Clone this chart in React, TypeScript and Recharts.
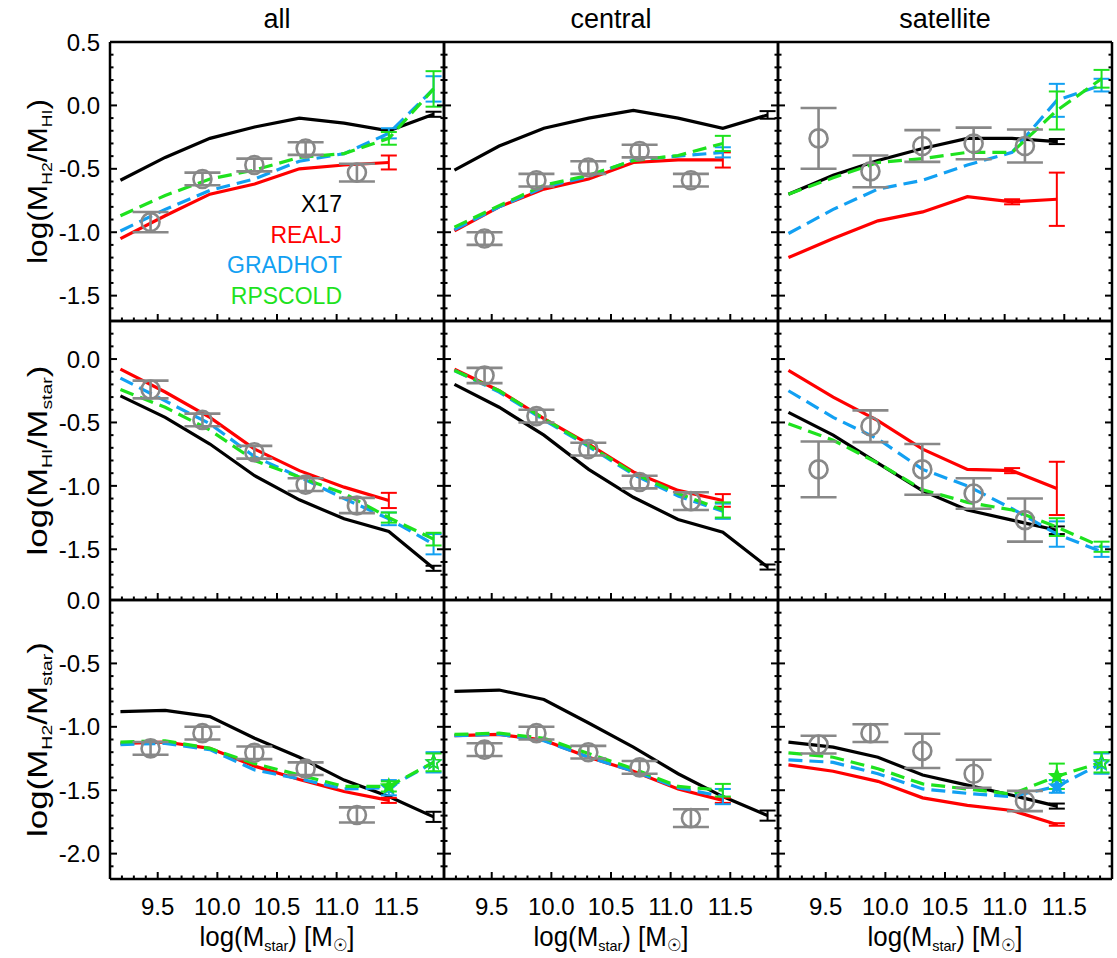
import React from 'react';
import { ComposedChart, Line, Scatter, XAxis, YAxis, ErrorBar } from 'recharts';

// ---------------- axes / categories ----------------
const MODEL_X = [9.1875, 9.5625, 9.9375, 10.3125, 10.6875, 11.0625, 11.4375, 11.8125];
const OBS_X = [9.44, 9.875, 10.31, 10.74, 11.17];
const X_DOMAIN: [number, number] = [9.1, 11.9];
const X_TICK_LABELS = ['9.5', '10.0', '10.5', '11.0', '11.5'];
const ROW_DOMAINS: [number, number][] = [[-1.7, 0.5], [-1.9, 0.3], [-2.2, 0.0]];
const Y_TICK_LABELS = [
  ['0.5', '0.0', '-0.5', '-1.0', '-1.5'],
  ['0.0', '-0.5', '-1.0', '-1.5'],
  ['0.0', '-0.5', '-1.0', '-1.5', '-2.0'],
];
const COLUMN_TITLES = ['all', 'central', 'satellite'];
const SERIES_NAMES = ['X17', 'REALJ', 'GRADHOT', 'RPSCOLD'];
const SERIES_COLORS = ['#000000', '#ff0000', '#12a0f2', '#1ee21e'];
const SERIES_DASHED = [false, false, true, true];
const OBS_COLOR = '#888888';

// ---------------- row 1: log(M_H2/M_HI) ----------------
const H2HI_ALL_X17 = [-0.59, -0.41, -0.26, -0.17, -0.10, -0.14, -0.20, -0.07];
const H2HI_ALL_REALJ = [-1.05, -0.87, -0.70, -0.62, -0.50, -0.47, -0.45];
const H2HI_ALL_GRADHOT = [-0.99, -0.82, -0.67, -0.58, -0.44, -0.38, -0.22, 0.13];
const H2HI_ALL_RPSCOLD = [-0.87, -0.71, -0.58, -0.51, -0.41, -0.38, -0.26, 0.13];
const H2HI_ALL_ERR_X17 = [0, 0, 0, 0, 0, 0, 0, 0.02];
const H2HI_ALL_ERR_REALJ = [0, 0, 0, 0, 0, 0, 0.055];
const H2HI_ALL_ERR_GRADHOT = [0, 0, 0, 0, 0, 0, 0.04, 0.1];
const H2HI_ALL_ERR_RPSCOLD = [0, 0, 0, 0, 0, 0, 0.05, 0.14];
const H2HI_ALL_OBS = [-0.92, -0.58, -0.47, -0.34, -0.53];
const H2HI_ALL_OBS_ERR = [0.08, 0.05, 0.05, 0.05, 0.07];

const H2HI_CEN_X17 = [-0.51, -0.32, -0.18, -0.10, -0.04, -0.10, -0.18, -0.075];
const H2HI_CEN_REALJ = [-0.99, -0.80, -0.66, -0.58, -0.45, -0.43, -0.43];
const H2HI_CEN_GRADHOT = [-0.98, -0.80, -0.645, -0.56, -0.43, -0.40, -0.37];
const H2HI_CEN_RPSCOLD = [-0.96, -0.79, -0.63, -0.55, -0.435, -0.395, -0.30];
const H2HI_CEN_ERR_X17 = [0, 0, 0, 0, 0, 0, 0, 0.03];
const H2HI_CEN_ERR_REALJ = [0, 0, 0, 0, 0, 0, 0.06];
const H2HI_CEN_ERR_GRADHOT = [0, 0, 0, 0, 0, 0, 0.04];
const H2HI_CEN_ERR_RPSCOLD = [0, 0, 0, 0, 0, 0, 0.06];
const H2HI_CEN_OBS = [-1.05, -0.59, -0.49, -0.36, -0.59];
const H2HI_CEN_OBS_ERR = [0.05, 0.05, 0.05, 0.05, 0.05];

const H2HI_SAT_X17 = [-0.70, -0.55, -0.435, -0.34, -0.26, -0.26, -0.285];
const H2HI_SAT_REALJ = [-1.20, -1.05, -0.91, -0.84, -0.72, -0.76, -0.74];
const H2HI_SAT_GRADHOT = [-1.01, -0.82, -0.66, -0.59, -0.47, -0.37, 0.04, 0.16];
const H2HI_SAT_RPSCOLD = [-0.70, -0.57, -0.45, -0.42, -0.37, -0.37, -0.04, 0.21];
const H2HI_SAT_ERR_X17 = [0, 0, 0, 0, 0, 0, 0.02];
const H2HI_SAT_ERR_REALJ = [0, 0, 0, 0, 0, 0.02, 0.21];
const H2HI_SAT_ERR_GRADHOT = [0, 0, 0, 0, 0, 0, 0.13, 0.05];
const H2HI_SAT_ERR_RPSCOLD = [0, 0, 0, 0, 0, 0, 0.15, 0.07];
const H2HI_SAT_OBS = [-0.26, -0.52, -0.32, -0.30, -0.32];
const H2HI_SAT_OBS_ERR = [0.24, 0.125, 0.125, 0.125, 0.13];

// ---------------- row 2: log(M_HI/M_star) ----------------
const HIST_ALL_X17 = [-0.29, -0.46, -0.67, -0.92, -1.11, -1.26, -1.36, -1.65];
const HIST_ALL_REALJ = [-0.08, -0.26, -0.46, -0.71, -0.88, -1.01, -1.115];
const HIST_ALL_GRADHOT = [-0.15, -0.33, -0.51, -0.77, -0.93, -1.10, -1.26, -1.46];
const HIST_ALL_RPSCOLD = [-0.24, -0.38, -0.56, -0.80, -0.93, -1.06, -1.25, -1.42];
const HIST_ALL_ERR_X17 = [0, 0, 0, 0, 0, 0, 0, 0.02];
const HIST_ALL_ERR_REALJ = [0, 0, 0, 0, 0, 0, 0.06];
const HIST_ALL_ERR_GRADHOT = [0, 0, 0, 0, 0, 0, 0.05, 0.08];
const HIST_ALL_ERR_RPSCOLD = [0, 0, 0, 0, 0, 0, 0.04, 0.05];
const HIST_ALL_OBS = [-0.24, -0.48, -0.735, -0.99, -1.155];
const HIST_ALL_OBS_ERR = [0.07, 0.05, 0.05, 0.05, 0.06];

const HIST_CEN_X17 = [-0.20, -0.38, -0.60, -0.87, -1.09, -1.265, -1.365, -1.64];
const HIST_CEN_REALJ = [-0.08, -0.25, -0.47, -0.67, -0.89, -1.036, -1.115];
const HIST_CEN_GRADHOT = [-0.09, -0.26, -0.48, -0.69, -0.91, -1.08, -1.20];
const HIST_CEN_RPSCOLD = [-0.09, -0.25, -0.47, -0.68, -0.90, -1.06, -1.19];
const HIST_CEN_ERR_X17 = [0, 0, 0, 0, 0, 0, 0, 0.02];
const HIST_CEN_ERR_REALJ = [0, 0, 0, 0, 0, 0, 0.05];
const HIST_CEN_ERR_GRADHOT = [0, 0, 0, 0, 0, 0, 0.06];
const HIST_CEN_ERR_RPSCOLD = [0, 0, 0, 0, 0, 0, 0.06];
const HIST_CEN_OBS = [-0.13, -0.45, -0.71, -0.97, -1.12];
const HIST_CEN_OBS_ERR = [0.06, 0.05, 0.05, 0.05, 0.07];

const HIST_SAT_X17 = [-0.42, -0.60, -0.82, -1.04, -1.19, -1.27, -1.35];
const HIST_SAT_REALJ = [-0.09, -0.30, -0.485, -0.71, -0.87, -0.88, -1.02];
const HIST_SAT_GRADHOT = [-0.25, -0.46, -0.63, -0.87, -1.00, -1.18, -1.38, -1.52];
const HIST_SAT_RPSCOLD = [-0.51, -0.64, -0.82, -1.03, -1.13, -1.19, -1.325, -1.48];
const HIST_SAT_ERR_X17 = [0, 0, 0, 0, 0, 0, 0.03];
const HIST_SAT_ERR_REALJ = [0, 0, 0, 0, 0, 0.02, 0.21];
const HIST_SAT_ERR_GRADHOT = [0, 0, 0, 0, 0, 0, 0.1, 0.04];
const HIST_SAT_ERR_RPSCOLD = [0, 0, 0, 0, 0, 0, 0.07, 0.04];
const HIST_SAT_OBS = [-0.87, -0.53, -0.87, -1.06, -1.27];
const HIST_SAT_OBS_ERR = [0.22, 0.125, 0.2, 0.12, 0.17];

// ---------------- row 3: log(M_H2/M_star) ----------------
const H2ST_ALL_X17 = [-0.88, -0.87, -0.92, -1.09, -1.24, -1.42, -1.55, -1.71];
const H2ST_ALL_REALJ = [-1.13, -1.12, -1.17, -1.31, -1.415, -1.51, -1.58];
const H2ST_ALL_GRADHOT = [-1.14, -1.13, -1.18, -1.34, -1.41, -1.49, -1.48, -1.28];
const H2ST_ALL_RPSCOLD = [-1.12, -1.11, -1.17, -1.29, -1.38, -1.47, -1.47, -1.28];
const H2ST_ALL_ERR_X17 = [0, 0, 0, 0, 0, 0, 0, 0.04];
const H2ST_ALL_ERR_REALJ = [0, 0, 0, 0, 0, 0, 0.02];
const H2ST_ALL_ERR_GRADHOT = [0, 0, 0, 0, 0, 0, 0.06, 0.08];
const H2ST_ALL_ERR_RPSCOLD = [0, 0, 0, 0, 0, 0, 0.04, 0.07];
const H2ST_ALL_OBS = [-1.17, -1.05, -1.205, -1.33, -1.695];
const H2ST_ALL_OBS_ERR = [0.05, 0.05, 0.05, 0.05, 0.06];

const H2ST_CEN_X17 = [-0.72, -0.71, -0.785, -0.97, -1.16, -1.37, -1.55, -1.70];
const H2ST_CEN_REALJ = [-1.07, -1.06, -1.105, -1.24, -1.35, -1.49, -1.58];
const H2ST_CEN_GRADHOT = [-1.07, -1.06, -1.11, -1.24, -1.35, -1.48, -1.55];
const H2ST_CEN_RPSCOLD = [-1.06, -1.05, -1.09, -1.21, -1.33, -1.47, -1.50];
const H2ST_CEN_ERR_X17 = [0, 0, 0, 0, 0, 0, 0, 0.04];
const H2ST_CEN_ERR_REALJ = [0, 0, 0, 0, 0, 0, 0.02];
const H2ST_CEN_ERR_GRADHOT = [0, 0, 0, 0, 0, 0, 0.06];
const H2ST_CEN_ERR_RPSCOLD = [0, 0, 0, 0, 0, 0, 0.05];
const H2ST_CEN_OBS = [-1.18, -1.05, -1.20, -1.32, -1.72];
const H2ST_CEN_OBS_ERR = [0.05, 0.05, 0.05, 0.05, 0.07];

const H2ST_SAT_X17 = [-1.12, -1.16, -1.24, -1.38, -1.46, -1.54, -1.625];
const H2ST_SAT_REALJ = [-1.30, -1.35, -1.43, -1.56, -1.62, -1.66, -1.77];
const H2ST_SAT_GRADHOT = [-1.26, -1.28, -1.37, -1.49, -1.525, -1.55, -1.47, -1.29];
const H2ST_SAT_RPSCOLD = [-1.205, -1.24, -1.33, -1.45, -1.49, -1.53, -1.39, -1.28];
const H2ST_SAT_ERR_X17 = [0, 0, 0, 0, 0, 0, 0.02];
const H2ST_SAT_ERR_REALJ = [0, 0, 0, 0, 0, 0, 0.01];
const H2ST_SAT_ERR_GRADHOT = [0, 0, 0, 0, 0, 0, 0.05, 0.08];
const H2ST_SAT_ERR_RPSCOLD = [0, 0, 0, 0, 0, 0, 0.1, 0.08];
const H2ST_SAT_OBS = [-1.14, -1.05, -1.19, -1.37, -1.585];
const H2ST_SAT_OBS_ERR = [0.07, 0.07, 0.135, 0.11, 0.08];

// ---------------- layout (page pixels) ----------------
const W = 1117;
const H = 958;
const COL_EDGES = [110, 444, 778, 1112];
const ROW_EDGES = [42, 321, 600, 879];
const AXIS_PAD = 1;
const FONT = '"Liberation Sans", Arial, Helvetica, sans-serif';
const TICK_FONT = 24;

type Pt = { x: number; y: number; e?: number };

function modelPoints(vals: number[], errs: number[]): Pt[] {
  return vals.map((y, i) => ({ x: MODEL_X[i], y, e: errs[i] ? errs[i] : undefined }));
}
function obsPoints(vals: number[], errs: number[]): Pt[] {
  return vals.map((y, i) => ({ x: OBS_X[i], y, e: errs[i] }));
}

type PanelDef = {
  row: number;
  col: number;
  series: [number[], number[]][];
  obs: [number[], number[]];
  stars: boolean;
};

const PANELS: PanelDef[] = [
  { row: 0, col: 0, stars: false, obs: [H2HI_ALL_OBS, H2HI_ALL_OBS_ERR],
    series: [[H2HI_ALL_X17, H2HI_ALL_ERR_X17], [H2HI_ALL_REALJ, H2HI_ALL_ERR_REALJ], [H2HI_ALL_GRADHOT, H2HI_ALL_ERR_GRADHOT], [H2HI_ALL_RPSCOLD, H2HI_ALL_ERR_RPSCOLD]] },
  { row: 0, col: 1, stars: false, obs: [H2HI_CEN_OBS, H2HI_CEN_OBS_ERR],
    series: [[H2HI_CEN_X17, H2HI_CEN_ERR_X17], [H2HI_CEN_REALJ, H2HI_CEN_ERR_REALJ], [H2HI_CEN_GRADHOT, H2HI_CEN_ERR_GRADHOT], [H2HI_CEN_RPSCOLD, H2HI_CEN_ERR_RPSCOLD]] },
  { row: 0, col: 2, stars: false, obs: [H2HI_SAT_OBS, H2HI_SAT_OBS_ERR],
    series: [[H2HI_SAT_X17, H2HI_SAT_ERR_X17], [H2HI_SAT_REALJ, H2HI_SAT_ERR_REALJ], [H2HI_SAT_GRADHOT, H2HI_SAT_ERR_GRADHOT], [H2HI_SAT_RPSCOLD, H2HI_SAT_ERR_RPSCOLD]] },
  { row: 1, col: 0, stars: false, obs: [HIST_ALL_OBS, HIST_ALL_OBS_ERR],
    series: [[HIST_ALL_X17, HIST_ALL_ERR_X17], [HIST_ALL_REALJ, HIST_ALL_ERR_REALJ], [HIST_ALL_GRADHOT, HIST_ALL_ERR_GRADHOT], [HIST_ALL_RPSCOLD, HIST_ALL_ERR_RPSCOLD]] },
  { row: 1, col: 1, stars: false, obs: [HIST_CEN_OBS, HIST_CEN_OBS_ERR],
    series: [[HIST_CEN_X17, HIST_CEN_ERR_X17], [HIST_CEN_REALJ, HIST_CEN_ERR_REALJ], [HIST_CEN_GRADHOT, HIST_CEN_ERR_GRADHOT], [HIST_CEN_RPSCOLD, HIST_CEN_ERR_RPSCOLD]] },
  { row: 1, col: 2, stars: false, obs: [HIST_SAT_OBS, HIST_SAT_OBS_ERR],
    series: [[HIST_SAT_X17, HIST_SAT_ERR_X17], [HIST_SAT_REALJ, HIST_SAT_ERR_REALJ], [HIST_SAT_GRADHOT, HIST_SAT_ERR_GRADHOT], [HIST_SAT_RPSCOLD, HIST_SAT_ERR_RPSCOLD]] },
  { row: 2, col: 0, stars: true, obs: [H2ST_ALL_OBS, H2ST_ALL_OBS_ERR],
    series: [[H2ST_ALL_X17, H2ST_ALL_ERR_X17], [H2ST_ALL_REALJ, H2ST_ALL_ERR_REALJ], [H2ST_ALL_GRADHOT, H2ST_ALL_ERR_GRADHOT], [H2ST_ALL_RPSCOLD, H2ST_ALL_ERR_RPSCOLD]] },
  { row: 2, col: 1, stars: false, obs: [H2ST_CEN_OBS, H2ST_CEN_OBS_ERR],
    series: [[H2ST_CEN_X17, H2ST_CEN_ERR_X17], [H2ST_CEN_REALJ, H2ST_CEN_ERR_REALJ], [H2ST_CEN_GRADHOT, H2ST_CEN_ERR_GRADHOT], [H2ST_CEN_RPSCOLD, H2ST_CEN_ERR_RPSCOLD]] },
  { row: 2, col: 2, stars: true, obs: [H2ST_SAT_OBS, H2ST_SAT_OBS_ERR],
    series: [[H2ST_SAT_X17, H2ST_SAT_ERR_X17], [H2ST_SAT_REALJ, H2ST_SAT_ERR_REALJ], [H2ST_SAT_GRADHOT, H2ST_SAT_ERR_GRADHOT], [H2ST_SAT_RPSCOLD, H2ST_SAT_ERR_RPSCOLD]] },
];

function tenthTicks(lo: number, hi: number): number[] {
  const out: number[] = [];
  for (let k = Math.round(lo * 10); k <= Math.round(hi * 10); k++) out.push(k / 10);
  return out;
}
const isMajor = (v: number) => Math.round(v * 10) % 5 === 0;

function makeTick(side: 'left' | 'right' | 'top' | 'bottom', labels: string[] | null) {
  return (props: any) => {
    const { x, y, payload } = props;
    const v: number = payload.value;
    const major = isMajor(v);
    const len = major ? 7 : 3.5;
    let x2 = x, y2 = y;
    if (side === 'left') x2 = x + len;
    if (side === 'right') x2 = x - len;
    if (side === 'top') y2 = y + len;
    if (side === 'bottom') y2 = y - len;
    const txt = v.toFixed(1);
    const showLabel = !!labels && major && labels.indexOf(txt) >= 0;
    return (
      <g>
        <line x1={x} y1={y} x2={x2} y2={y2} stroke="#000" strokeWidth={2} />
        {showLabel && side === 'left' && (
          <text x={x - 10} y={y} dy="0.36em" textAnchor="end" fontSize={TICK_FONT} fontFamily={FONT} fill="#000">{txt}</text>
        )}
        {showLabel && side === 'bottom' && (
          <text x={x} y={y + 36} textAnchor="middle" fontSize={TICK_FONT} fontFamily={FONT} fill="#000">{txt}</text>
        )}
      </g>
    );
  };
}

function starPath(cx: number, cy: number, r: number): string {
  let d = '';
  for (let k = 0; k < 10; k++) {
    const rr = k % 2 === 0 ? r : r * 0.45;
    const a = -Math.PI / 2 + (k * Math.PI) / 5;
    d += (k === 0 ? 'M' : 'L') + (cx + rr * Math.cos(a)).toFixed(2) + ',' + (cy + rr * Math.sin(a)).toFixed(2);
  }
  return d + 'Z';
}

function Panel({ def }: { def: PanelDef }) {
  const { row, col } = def;
  const margin = {
    left: COL_EDGES[col] - AXIS_PAD,
    right: W - COL_EDGES[col + 1] - AXIS_PAD,
    top: ROW_EDGES[row] - AXIS_PAD,
    bottom: H - ROW_EDGES[row + 1] - AXIS_PAD,
  };
  const yDomain = ROW_DOMAINS[row];
  const xTicks = tenthTicks(X_DOMAIN[0], X_DOMAIN[1]);
  const yTicks = tenthTicks(yDomain[0], yDomain[1]);
  const axisLine = { stroke: '#000', strokeWidth: 2.5 };
  return (
    <div style={{ position: 'absolute', left: 0, top: 0 }}>
      <ComposedChart width={W} height={H} margin={margin}>
        <XAxis xAxisId="b" type="number" dataKey="x" domain={X_DOMAIN} ticks={xTicks} interval={0}
          orientation="bottom" height={AXIS_PAD} tickSize={0} tickMargin={0} tickLine={false} axisLine={axisLine}
          tick={makeTick('bottom', row === 2 ? X_TICK_LABELS : null)} />
        <XAxis xAxisId="t" type="number" domain={X_DOMAIN} allowDataOverflow ticks={xTicks} interval={0}
          orientation="top" height={AXIS_PAD} tickSize={0} tickMargin={0} tickLine={false} axisLine={axisLine}
          tick={makeTick('top', null)} />
        <YAxis yAxisId="l" type="number" dataKey="y" domain={yDomain} ticks={yTicks} interval={0}
          orientation="left" width={AXIS_PAD} tickSize={0} tickMargin={0} tickLine={false} axisLine={axisLine}
          tick={makeTick('left', col === 0 ? Y_TICK_LABELS[row] : null)} />
        <YAxis yAxisId="r" type="number" domain={yDomain} allowDataOverflow ticks={yTicks} interval={0}
          orientation="right" width={AXIS_PAD} tickSize={0} tickMargin={0} tickLine={false} axisLine={axisLine}
          tick={makeTick('right', null)} />
        {def.series.map(([vals, errs], si) => {
          const color = SERIES_COLORS[si];
          const useStars = def.stars && SERIES_DASHED[si];
          const dot = useStars
            ? (p: any) => {
                if (p.index < 6) return <g key={`d${si}-${p.index}`} />;
                const filled = p.index === 6;
                return (
                  <path key={`d${si}-${p.index}`} d={starPath(p.cx, p.cy, 7.5)}
                    fill={filled ? color : 'none'} stroke={color} strokeWidth={1.5} />
                );
              }
            : false;
          return (
            <Line key={SERIES_NAMES[si]} name={SERIES_NAMES[si]} data={modelPoints(vals, errs)} dataKey="y"
              xAxisId="b" yAxisId="l" type="linear" stroke={color} strokeWidth={3.2}
              strokeDasharray={SERIES_DASHED[si] ? '14 7' : undefined}
              dot={dot as any} activeDot={false} isAnimationActive={false} legendType="none">
              <ErrorBar dataKey="e" direction="y" width={8} stroke={color} strokeWidth={2} />
            </Line>
          );
        })}
        <Scatter name="obs" data={obsPoints(def.obs[0], def.obs[1])} xAxisId="b" yAxisId="l"
          isAnimationActive={false} legendType="none"
          shape={(p: any) => <circle cx={p.cx} cy={p.cy} r={9} fill="none" stroke={OBS_COLOR} strokeWidth={2.6} />}>
          <ErrorBar dataKey="e" direction="y" width={18} stroke={OBS_COLOR} strokeWidth={2.6} />
        </Scatter>
      </ComposedChart>
    </div>
  );
}

const Y_TITLES = [
  ['log(M', 'H2', '/M', 'HI', ')'],
  ['log(M', 'HI', '/M', 'star', ')'],
  ['log(M', 'H2', '/M', 'star', ')'],
];
const Y_TITLE_LEN = [165, 190, 195];

function Texts() {
  const colCenters = [0, 1, 2].map((c) => (COL_EDGES[c] + COL_EDGES[c + 1]) / 2);
  const rowCenters = [0, 1, 2].map((r) => (ROW_EDGES[r] + ROW_EDGES[r + 1]) / 2);
  return (
    <svg width={W} height={H} style={{ position: 'absolute', left: 0, top: 0 }} fontFamily={FONT}>
      {COLUMN_TITLES.map((t, c) => (
        <text key={t} x={colCenters[c]} y={28} textAnchor="middle" fontSize={27} fill="#000">{t}</text>
      ))}
      {colCenters.map((cx, c) => (
        <text key={`xl${c}`} x={cx} y={946} textAnchor="middle" fontSize={27} fill="#000"
          textLength={155} lengthAdjust="spacingAndGlyphs">
          log(M<tspan fontSize={15} dy={5}>star</tspan><tspan dy={-5}>) [M</tspan>
          <tspan fontSize={17} dy={5}>☉</tspan><tspan dy={-5}>]</tspan>
        </text>
      ))}
      {rowCenters.map((cy, r) => (
        <text key={`yl${r}`} transform={`translate(47, ${cy}) rotate(-90)`} textAnchor="middle" fontSize={27}
          fill="#000" textLength={Y_TITLE_LEN[r]} lengthAdjust="spacingAndGlyphs">
          {Y_TITLES[r][0]}<tspan fontSize={15} dy={5}>{Y_TITLES[r][1]}</tspan>
          <tspan dy={-5}>{Y_TITLES[r][2]}</tspan><tspan fontSize={15} dy={5}>{Y_TITLES[r][3]}</tspan>
          <tspan dy={-5}>{Y_TITLES[r][4]}</tspan>
        </text>
      ))}
      {SERIES_NAMES.map((n, i) => (
        <text key={n} x={342} y={212 + i * 30.5} textAnchor="end" fontSize={23} fill={SERIES_COLORS[i]}>{n}</text>
      ))}
    </svg>
  );
}

export default function App() {
  return (
    <div style={{ position: 'absolute', left: 0, top: 0, width: W, height: H, background: '#fff', overflow: 'hidden' }}>
      {PANELS.map((p) => (
        <Panel key={`${p.row}-${p.col}`} def={p} />
      ))}
      <Texts />
    </div>
  );
}
